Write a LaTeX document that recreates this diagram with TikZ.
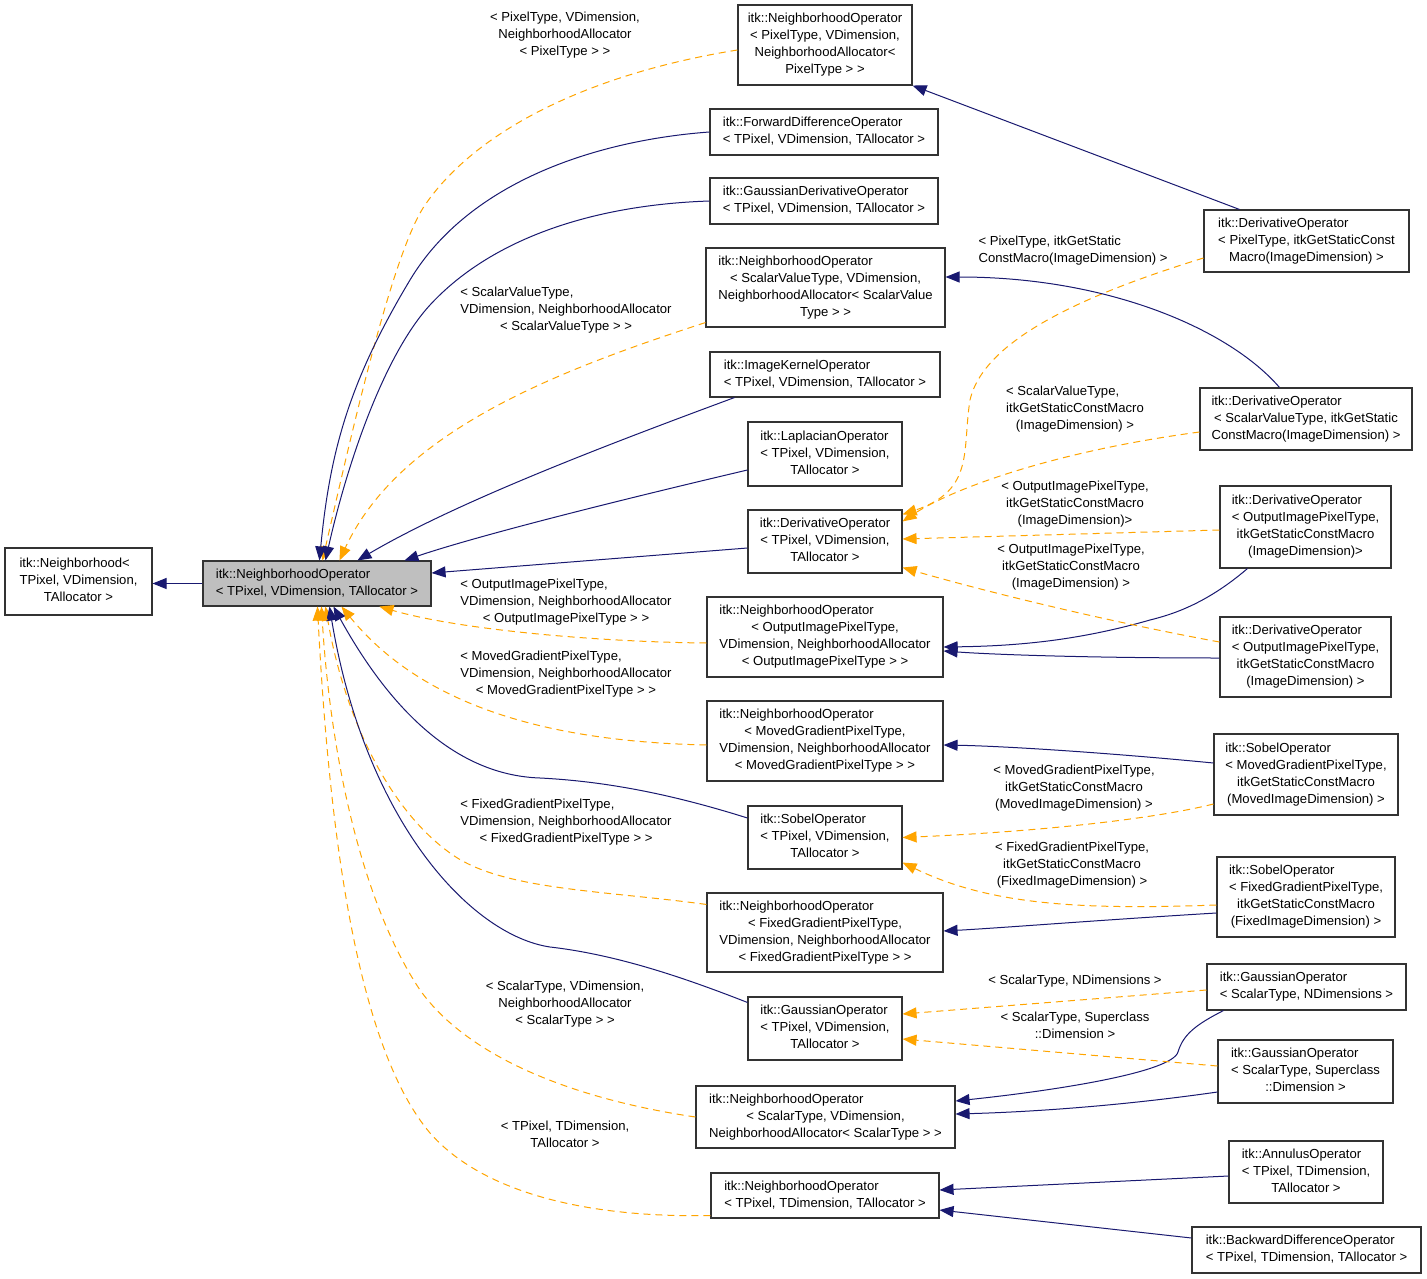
\documentclass[tikz,border=0pt]{standalone}
\usepackage{fontspec}
\setmainfont{Liberation Sans}
\usepackage{tikz}
\usetikzlibrary{calc,arrows.meta}
\definecolor{inhblue}{HTML}{191970}
\definecolor{tplorange}{HTML}{FFA500}
\definecolor{basegray}{HTML}{BFBFBF}
\newcommand{\tlines}[2]{\begin{tabular}{@{}c@{}}\multicolumn{1}{@{}l@{}}{#1}\\#2\end{tabular}}

\begin{document}
\begin{tikzpicture}[x=1pt,y=-1pt,
  every node/.style={font=\fontsize{13.1}{17}\selectfont},
  cls/.style={draw=black!80,line width=1.1pt,fill=white,inner sep=0pt},
  lbl/.style={inner sep=0pt},
  inh/.style={draw=inhblue,line width=1pt,-{Triangle[length=14pt,width=11pt]}},
  tpl/.style={draw=tplorange,line width=1pt,dash pattern=on 7pt off 5pt,-{Triangle[length=14pt,width=11pt]}}]
  \fill[white] (0,0) rectangle (1427,1279);
  \useasboundingbox (0,0) rectangle (1427,1279);

  \node[cls,minimum width=147,minimum height=67] (nbh) at (78.5,581.5) {\tlines{itk::Neighborhood<}{TPixel, VDimension,\\ TAllocator >}};
  \node[cls,fill=basegray,minimum width=228,minimum height=45] (nop) at (317,583.5) {\tlines{itk::NeighborhoodOperator}{< TPixel, VDimension, TAllocator >}};

  \node[cls,minimum width=174,minimum height=80] (nopPix) at (825,45) {\tlines{itk::NeighborhoodOperator}{< PixelType, VDimension,\\ NeighborhoodAllocator<\\ PixelType > >}};
  \node[cls,minimum width=228,minimum height=46] (fdo) at (824,132) {\tlines{itk::ForwardDifferenceOperator}{< TPixel, VDimension, TAllocator >}};
  \node[cls,minimum width=228,minimum height=46] (gdo) at (824,201) {\tlines{itk::GaussianDerivativeOperator}{< TPixel, VDimension, TAllocator >}};
  \node[cls,minimum width=239,minimum height=79] (nopSV) at (825.5,287.5) {\tlines{itk::NeighborhoodOperator}{< ScalarValueType, VDimension,\\ NeighborhoodAllocator< ScalarValue\\ Type > >}};
  \node[cls,minimum width=230,minimum height=45] (iko) at (825,374.5) {\tlines{itk::ImageKernelOperator}{< TPixel, VDimension, TAllocator >}};
  \node[cls,minimum width=154,minimum height=64] (lap) at (825,454) {\tlines{itk::LaplacianOperator}{< TPixel, VDimension,\\ TAllocator >}};
  \node[cls,minimum width=154,minimum height=63] (dop) at (825,541.5) {\tlines{itk::DerivativeOperator}{< TPixel, VDimension,\\ TAllocator >}};
  \node[cls,minimum width=236,minimum height=80] (nopOut) at (825,637) {\tlines{itk::NeighborhoodOperator}{< OutputImagePixelType,\\ VDimension, NeighborhoodAllocator\\ < OutputImagePixelType > >}};
  \node[cls,minimum width=236,minimum height=80] (nopMoved) at (825,741) {\tlines{itk::NeighborhoodOperator}{< MovedGradientPixelType,\\ VDimension, NeighborhoodAllocator\\ < MovedGradientPixelType > >}};
  \node[cls,minimum width=154,minimum height=63] (sob) at (825,837.5) {\tlines{itk::SobelOperator}{< TPixel, VDimension,\\ TAllocator >}};
  \node[cls,minimum width=236,minimum height=79] (nopFixed) at (825,932.5) {\tlines{itk::NeighborhoodOperator}{< FixedGradientPixelType,\\ VDimension, NeighborhoodAllocator\\ < FixedGradientPixelType > >}};
  \node[cls,minimum width=154,minimum height=63] (gau) at (825,1028.5) {\tlines{itk::GaussianOperator}{< TPixel, VDimension,\\ TAllocator >}};
  \node[cls,minimum width=259,minimum height=62] (nopScalar) at (825.5,1117) {\tlines{itk::NeighborhoodOperator}{< ScalarType, VDimension,\\ NeighborhoodAllocator< ScalarType > >}};
  \node[cls,minimum width=228,minimum height=45] (nopT) at (825,1195.5) {\tlines{itk::NeighborhoodOperator}{< TPixel, TDimension, TAllocator >}};

  \node[cls,minimum width=205,minimum height=62] (dopPix) at (1306.5,241) {\tlines{itk::DerivativeOperator}{< PixelType, itkGetStaticConst\\ Macro(ImageDimension) >}};
  \node[cls,minimum width=212,minimum height=62] (dopSV) at (1306,419) {\tlines{itk::DerivativeOperator}{< ScalarValueType, itkGetStatic\\ ConstMacro(ImageDimension) >}};
  \node[cls,minimum width=171,minimum height=82] (dopOut) at (1305.5,527) {\tlines{itk::DerivativeOperator}{< OutputImagePixelType,\\ itkGetStaticConstMacro\\ (ImageDimension)>}};
  \node[cls,minimum width=171,minimum height=80] (dopOutB) at (1305.5,657) {\tlines{itk::DerivativeOperator}{< OutputImagePixelType,\\ itkGetStaticConstMacro\\ (ImageDimension) >}};
  \node[cls,minimum width=184,minimum height=81] (sobMoved) at (1306,774.5) {\tlines{itk::SobelOperator}{< MovedGradientPixelType,\\ itkGetStaticConstMacro\\ (MovedImageDimension) >}};
  \node[cls,minimum width=178,minimum height=80] (sobFixed) at (1306,897) {\tlines{itk::SobelOperator}{< FixedGradientPixelType,\\ itkGetStaticConstMacro\\ (FixedImageDimension) >}};
  \node[cls,minimum width=199,minimum height=46] (gauND) at (1306.5,987) {\tlines{itk::GaussianOperator}{< ScalarType, NDimensions >}};
  \node[cls,minimum width=175,minimum height=63] (gauSup) at (1305.5,1071.5) {\tlines{itk::GaussianOperator}{< ScalarType, Superclass\\ ::Dimension >}};
  \node[cls,minimum width=154,minimum height=62] (ann) at (1306,1172) {\tlines{itk::AnnulusOperator}{< TPixel, TDimension,\\ TAllocator >}};
  \node[cls,minimum width=229,minimum height=46] (bdo) at (1306.5,1250) {\tlines{itk::BackwardDifferenceOperator}{< TPixel, TDimension, TAllocator >}};

  \node[lbl] (lPix) at (565,35) {\tlines{< PixelType, VDimension,}{NeighborhoodAllocator\\ < PixelType > >}};
  \node[lbl] (lSV) at (566,310) {\tlines{< ScalarValueType,}{VDimension, NeighborhoodAllocator\\ < ScalarValueType > >}};
  \node[lbl] (lOut) at (566,602) {\tlines{< OutputImagePixelType,}{VDimension, NeighborhoodAllocator\\ < OutputImagePixelType > >}};
  \node[lbl] (lMoved) at (566,674) {\tlines{< MovedGradientPixelType,}{VDimension, NeighborhoodAllocator\\ < MovedGradientPixelType > >}};
  \node[lbl] (lFixed) at (566,822) {\tlines{< FixedGradientPixelType,}{VDimension, NeighborhoodAllocator\\ < FixedGradientPixelType > >}};
  \node[lbl] (lScalar) at (565,1004) {\tlines{< ScalarType, VDimension,}{NeighborhoodAllocator\\ < ScalarType > >}};
  \node[lbl] (lT) at (565,1135.5) {\tlines{< TPixel, TDimension,}{TAllocator >}};
  \node[lbl] (rPix) at (1073,250.5) {\tlines{< PixelType, itkGetStatic}{ConstMacro(ImageDimension) >}};
  \node[lbl] (rSV) at (1075,409) {\tlines{< ScalarValueType,}{itkGetStaticConstMacro\\ (ImageDimension) >}};
  \node[lbl] (rOut) at (1075,504) {\tlines{< OutputImagePixelType,}{itkGetStaticConstMacro\\ (ImageDimension)>}};
  \node[lbl] (rOutB) at (1071,567) {\tlines{< OutputImagePixelType,}{itkGetStaticConstMacro\\ (ImageDimension) >}};
  \node[lbl] (rMoved) at (1074,788) {\tlines{< MovedGradientPixelType,}{itkGetStaticConstMacro\\ (MovedImageDimension) >}};
  \node[lbl] (rFixed) at (1072,865) {\tlines{< FixedGradientPixelType,}{itkGetStaticConstMacro\\ (FixedImageDimension) >}};
  \node[lbl] (rND) at (1075,981) {< ScalarType, NDimensions >};
  \node[lbl] (rSup) at (1075,1026.5) {\tlines{< ScalarType, Superclass}{::Dimension >}};

  \draw[inh] (nop.west) -- (nbh.east |- nop.west);

  \draw[tpl] ($(nopPix.west)+(0,5)$) .. controls (600,72) and (480,125) .. (425,205) .. controls (392,253) and (350,440) .. ($(nop.north west)+(120,0)$);
  \draw[inh] (fdo.west) .. controls (600,140) and (470,180) .. (410,280) .. controls (350,380) and (330,450) .. ($(nop.north west)+(117,0)$);
  \draw[inh] (gdo.west) .. controls (590,205) and (490,240) .. (430,305) .. controls (385,354) and (348,460) .. ($(nop.north west)+(123,0)$);
  \draw[tpl] ($(nopSV.south west)+(0,-5)$) .. controls (560,370) and (400,430) .. ($(nop.north west)+(137,0)$);
  \draw[inh] ($(iko.south west)+(25,0)$) .. controls (620,440) and (460,500) .. ($(nop.north west)+(155,0)$);
  \draw[inh] ($(lap.west)+(0,16)$) .. controls (620,500) and (480,535) .. ($(nop.north west)+(202,0)$);
  \draw[inh] ($(dop.west)+(0,6.5)$) -- ($(nop.east)+(0,-10.5)$);
  \draw[tpl] ($(nopOut.west)+(0,6)$) .. controls (600,642) and (460,630) .. ($(nop.south west)+(177,0)$);
  \draw[tpl] ($(nopMoved.west)+(0,4)$) .. controls (570,742) and (430,715) .. ($(nop.south west)+(139,0)$);
  \draw[inh] ($(sob.west)+(0,-19.5)$) .. controls (690,800) and (620,782) .. (540,778) .. controls (450,775) and (385,700) .. ($(nop.south west)+(131,0)$);
  \draw[tpl] ($(nopFixed.north west)+(0,12)$) .. controls (600,890) and (500,890) .. (450,853) .. controls (390,810) and (345,720) .. ($(nop.south west)+(123,0)$);
  \draw[inh] ($(gau.north west)+(0,6)$) .. controls (690,980) and (620,955) .. (550,947) .. controls (470,935) and (365,820) .. ($(nop.south west)+(127,0)$);
  \draw[tpl] (nopScalar.west) .. controls (580,1100) and (470,1060) .. (420,990) .. controls (360,900) and (330,750) .. ($(nop.south west)+(119,0)$);
  \draw[tpl] ($(nopT.south west)+(0,-3)$) .. controls (580,1218) and (480,1190) .. (430,1133) .. controls (360,1050) and (330,850) .. ($(nop.south west)+(115,0)$);

  \draw[inh] ($(dopPix.north west)+(36,0)$) -- (nopPix.south east);
  \draw[tpl] ($(dopPix.west)+(0,17)$) .. controls (1100,290) and (985,335) .. (970,400) .. controls (962,450) and (975,490) .. ($(dop.north east)+(0,5)$);
  \draw[inh] ($(dopSV.north west)+(80,0)$) .. controls (1230,330) and (1110,277) .. ($(nopSV.east)+(0,-10.5)$);
  \draw[tpl] ($(dopSV.west)+(0,13)$) .. controls (1050,452) and (950,490) .. ($(dop.north east)+(0,12)$);
  \draw[tpl] ($(dopOut.west)+(0,3)$) -- ($(dop.east)+(0,-2.5)$);
  \draw[inh] ($(dopOut.south west)+(28,0)$) .. controls (1205,605) and (1170,615) .. (1150,620) .. controls (1080,640) and (1020,646) .. ($(nopOut.east)+(0,10)$);
  \draw[tpl] ($(dopOutB.west)+(0,-15)$) .. controls (1100,620) and (980,590) .. ($(dop.south east)+(0,-6)$);
  \draw[inh] ($(dopOutB.west)+(0,1)$) .. controls (1100,658) and (1000,655) .. ($(nopOut.east)+(0,14)$);
  \draw[inh] ($(sobMoved.west)+(0,-11.5)$) .. controls (1100,752) and (1000,746) .. ($(nopMoved.east)+(0,4)$);
  \draw[tpl] ($(sobMoved.west)+(0,29.5)$) .. controls (1150,820) and (1030,832) .. (sob.east);
  \draw[tpl] ($(sobFixed.west)+(0,8)$) .. controls (1080,910) and (990,905) .. ($(sob.south east)+(0,-7)$);
  \draw[inh] ($(sobFixed.west)+(0,16)$) .. controls (1100,920) and (1000,928) .. ($(nopFixed.east)+(0,-1.5)$);
  \draw[tpl] ($(gauND.west)+(0,3)$) -- ($(gau.east)+(0,-14.5)$);
  \draw[inh] ($(gauND.south west)+(17,0)$) .. controls (1195,1025) and (1183,1035) .. (1178,1052) .. controls (1172,1072) and (1060,1090) .. ($(nopScalar.east)+(0,-16)$);
  \draw[tpl] ($(gauSup.west)+(0,-5.5)$) -- ($(gau.east)+(0,10.5)$);
  \draw[inh] ($(gauSup.west)+(0,20.5)$) .. controls (1120,1106) and (1030,1112) .. ($(nopScalar.east)+(0,-3)$);
  \draw[inh] ($(ann.west)+(0,4)$) -- ($(nopT.east)+(0,-5.5)$);
  \draw[inh] ($(bdo.west)+(0,-12)$) -- ($(nopT.east)+(0,14.5)$);
\end{tikzpicture}
\end{document}
